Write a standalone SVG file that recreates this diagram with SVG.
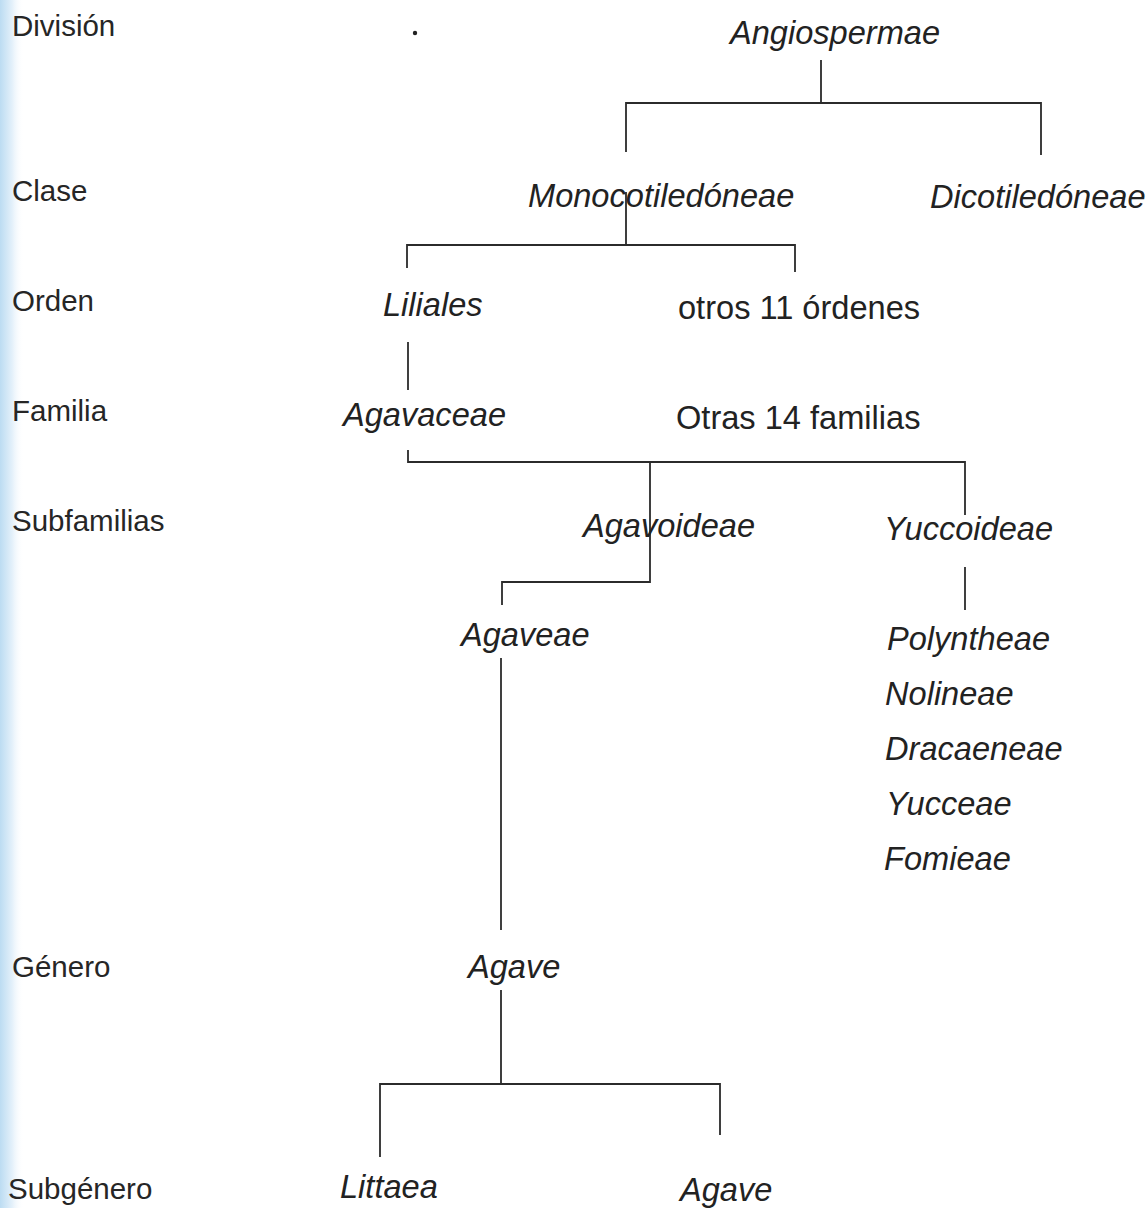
<svg xmlns="http://www.w3.org/2000/svg" width="1147" height="1208" viewBox="0 0 1147 1208">
<defs>
<linearGradient id="edge" x1="0" y1="0" x2="1" y2="0">
<stop offset="0" stop-color="#bcdcf2"/>
<stop offset="0.5" stop-color="#e3f0fa"/>
<stop offset="1" stop-color="#ffffff" stop-opacity="0"/>
</linearGradient>
<style>
.lvl{font-family:"Liberation Sans",Arial,sans-serif;font-size:29.5px;fill:#262626}
.tx{font-family:"Liberation Sans",Arial,sans-serif;font-size:32.6px;fill:#222}
.it{font-style:italic}
.ln{fill:none;stroke:#2b2b2b;stroke-width:1.8}
</style>
</defs>
<rect width="1147" height="1208" fill="#ffffff"/>
<rect x="0" y="0" width="24" height="1208" fill="url(#edge)"/>
<circle cx="415" cy="33" r="2.2" fill="#222"/>
<g id="levels">
<text class="lvl" x="12" y="36">División</text>
<text class="lvl" x="12" y="201">Clase</text>
<text class="lvl" x="12" y="311">Orden</text>
<text class="lvl" x="12" y="421">Familia</text>
<text class="lvl" x="12" y="531">Subfamilias</text>
<text class="lvl" x="12" y="977">Género</text>
<text class="lvl" x="8" y="1199">Subgénero</text>
</g>
<g id="connectors">
<path class="ln" d="M821 60V103M626 152V103H1041V155"/>
<path class="ln" d="M626 192V245M407 268V245H795V272"/>
<path class="ln" d="M408 342V390"/>
<path class="ln" d="M408 450V462H965V515M650 462V582H502V605"/>
<path class="ln" d="M965 567V610"/>
<path class="ln" d="M501 658V930"/>
<path class="ln" d="M501 990V1084M380 1157V1084H720V1135"/>
</g>
<g id="n-angiospermae"><text class="tx it" x="730" y="44">Angiospermae</text></g>
<g id="n-monocot"><text class="tx it" x="528" y="207">Monocotiledóneae</text></g>
<g id="n-dicot"><text class="tx it" x="930" y="208">Dicotiledóneae</text></g>
<g id="n-liliales"><text class="tx it" x="383" y="316">Liliales</text></g>
<g id="n-otros-ordenes"><text class="tx" x="678" y="319">otros 11 órdenes</text></g>
<g id="n-agavaceae"><text class="tx it" x="343" y="426">Agavaceae</text></g>
<g id="n-otras-familias"><text class="tx" x="676" y="429">Otras 14 familias</text></g>
<g id="n-agavoideae"><text class="tx it" x="583" y="537">Agavoideae</text></g>
<g id="n-yuccoideae"><text class="tx it" x="884" y="540">Yuccoideae</text></g>
<g id="n-agaveae"><text class="tx it" x="461" y="646">Agaveae</text></g>
<g id="n-tribus">
<text class="tx it" x="887" y="650">Polyntheae</text>
<text class="tx it" x="885" y="705">Nolineae</text>
<text class="tx it" x="885" y="760">Dracaeneae</text>
<text class="tx it" x="886" y="815">Yucceae</text>
<text class="tx it" x="884" y="870">Fomieae</text>
</g>
<g id="n-agave-genero"><text class="tx it" x="468" y="978">Agave</text></g>
<g id="n-littaea"><text class="tx it" x="340" y="1198">Littaea</text></g>
<g id="n-agave-sub"><text class="tx it" x="680" y="1201">Agave</text></g>
</svg>
